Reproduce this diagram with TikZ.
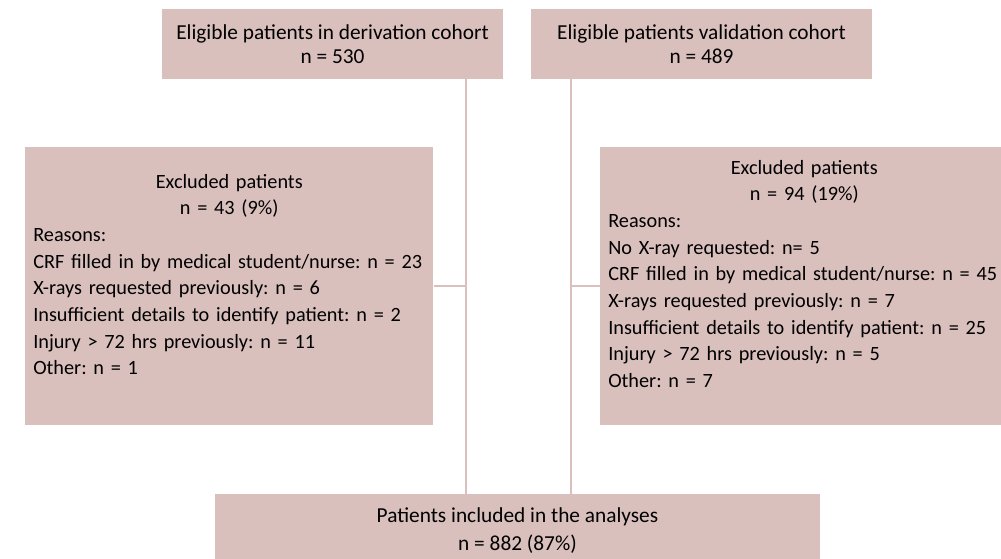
\documentclass[tikz,border=0pt]{standalone}
\usepackage{fontspec}
\setmainfont{Carlito}
\definecolor{boxpink}{RGB}{217,192,189}
\setlength{\parindent}{0pt}
\frenchspacing

\begin{document}
\begin{tikzpicture}[x=0.75pt, y=-0.75pt,
    box/.style={fill=boxpink, inner sep=0pt, align=center,
                font=\fontsize{16}{18}\selectfont},
    exbox/.style={fill=boxpink, inner xsep=6pt, text width=294pt,
                  anchor=north west, font=\fontsize{15.2}{20}\selectfont},
    link/.style={draw=boxpink, line width=1.5pt}]
\useasboundingbox (0,0) rectangle (1001,559);

    % cohorts
    \node[box, minimum width=255.75pt, minimum height=52.5pt] (deriv) at (332.5,44)
        {Eligible patients in derivation cohort\\n = 530};
    \node[box, minimum width=255.75pt, minimum height=52.5pt] (valid) at (701.5,44)
        {Eligible patients validation cohort\\n = 489};

    % exclusions
    \node[exbox, inner ysep=16.75pt, text depth=161pt] (exl) at (25,147)
        {{\centering\strut Excluded patients\par n = 43 (9\%)\par}\raggedright
         Reasons:\par
         CRF filled in by medical student/nurse: n = 23\par
         X-rays requested previously: n = 6\par
         Insufficient details to identify patient: n = 2\par
         Injury > 72 hrs previously: n = 11\par
         Other: n = 1};
    \node[exbox, inner ysep=6.25pt, text depth=182pt] (exr) at (600,147)
        {{\centering\strut Excluded patients\par n = 94 (19\%)\par}\raggedright
         Reasons:\par
         No X-ray requested: n= 5\par
         CRF filled in by medical student/nurse: n = 45\par
         X-rays requested previously: n = 7\par
         Insufficient details to identify patient: n = 25\par
         Injury > 72 hrs previously: n = 5\par
         Other: n = 7};

    % included
    \node[box, font=\fontsize{16}{21}\selectfont,
          minimum width=453.75pt, minimum height=55.5pt] (incl) at (517.5,531)
        {Patients included in the analyses\\n = 882 (87\%)};

    % links
    \coordinate (jl) at (466,0);
    \coordinate (jr) at (571,0);
    \draw[link] (deriv.south -| jl) -- (incl.north -| jl);
    \draw[link] (valid.south -| jr) -- (incl.north -| jr);
    \draw[link] (exl.east) -- (exl.east -| jl);
    \draw[link] (exr.west) -- (exr.west -| jr);

\end{tikzpicture}
\end{document}
